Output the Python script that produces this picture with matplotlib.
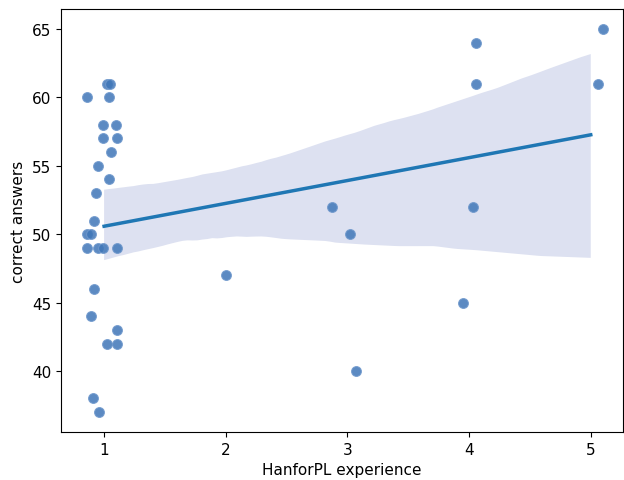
import matplotlib
matplotlib.use("Agg")
import matplotlib.pyplot as plt
import numpy as np
import seaborn as sns

# jittered experience values as drawn, and correct answers
experience = [0.86, 1.02, 1.05, 1.04, 0.99, 1.10, 0.99, 1.11, 1.06, 0.95, 1.04, 0.93,
              0.92, 0.86, 0.89, 0.86, 0.95, 0.99, 1.11, 0.92, 0.89, 1.11, 1.02, 1.11,
              0.91, 0.96,
              2.00, 2.87, 3.02, 3.07, 3.95, 4.03, 4.06, 4.06, 5.06, 5.10]
answers = [60, 61, 61, 60, 58, 58, 57, 57, 56, 55, 54, 53,
           51, 50, 50, 49, 49, 49, 49, 46, 44, 43, 42, 42,
           38, 37,
           47, 52, 50, 40, 45, 52, 64, 61, 61, 65]
experience_level = np.round(experience)
yv = np.array(answers, dtype=float)

# pick a bootstrap seed whose band resembles the reference band
target = np.array([48.0, 53.2, 48.4, 63.0])  # low/high at x=1, low/high at x=5
best_seed, best_err = 0, 1e9
scratch_fig, scratch_ax = plt.subplots()
for s in range(40):
    scratch_ax.cla()
    sns.regplot(x=experience_level, y=yv, scatter=False, ax=scratch_ax, seed=s, n_boot=500)
    v = scratch_ax.collections[0].get_paths()[0].vertices
    at1 = v[np.isclose(v[:, 0], 1.0)][:, 1]
    at5 = v[np.isclose(v[:, 0], 5.0)][:, 1]
    got = np.array([at1.min(), at1.max(), at5.min(), at5.max()])
    err = np.abs(got - target).sum()
    if err < best_err:
        best_err, best_seed = err, s
plt.close(scratch_fig)

fig = plt.figure(figsize=(6.24, 4.81), dpi=100)
ax = fig.add_axes([0.098, 0.1, 0.9, 0.879])

sns.regplot(x=experience_level, y=yv, scatter=False, ax=ax,
            color="#1f77b4", seed=best_seed, n_boot=500, line_kws=dict(lw=2.5))
for coll in ax.collections:
    coll.set_facecolor("#dde1f1")
    coll.set_alpha(1.0)
    coll.set_edgecolor("none")
    coll.set_zorder(1)
ax.lines[0].set_zorder(3)

ax.scatter(experience, answers, s=50, color="#3f76b8", alpha=0.85,
           edgecolors="#6f98cc", linewidths=0.8, zorder=2)

ax.set_xlim(0.647, 5.263)
ax.set_ylim(35.55, 66.45)
ax.set_xticks([1, 2, 3, 4, 5])
ax.set_yticks([40, 45, 50, 55, 60, 65])
ax.set_xlabel("HanforPL experience", fontsize=11)
ax.set_ylabel("correct answers", fontsize=11)
ax.tick_params(labelsize=11)

fig.savefig("out.png", dpi=100)
